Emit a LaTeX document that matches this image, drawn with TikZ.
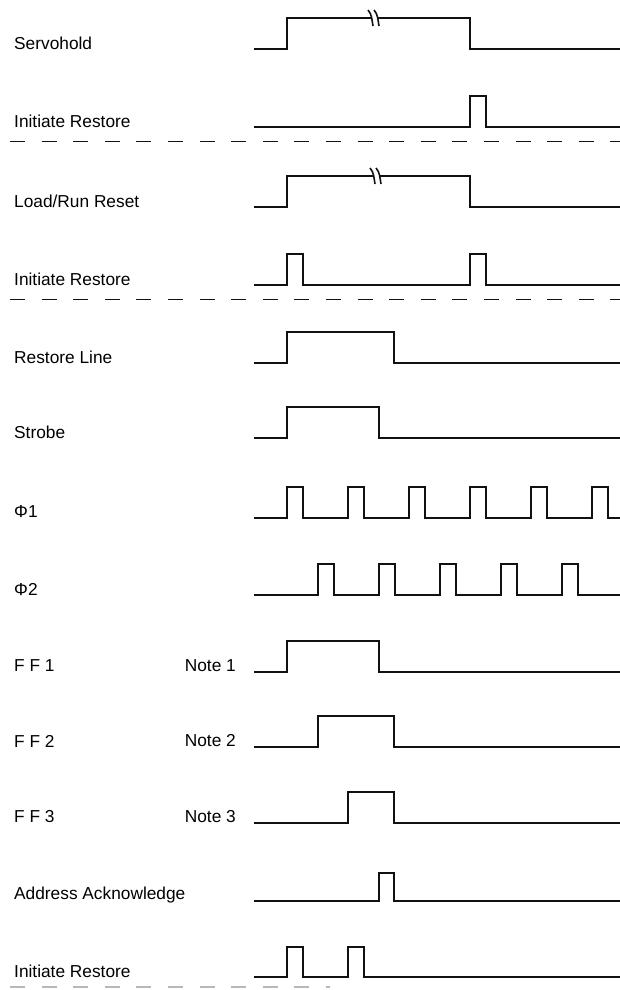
\documentclass[tikz,border=0pt]{standalone}
\usepackage{fontspec}
\setmainfont{Liberation Sans}
\usetikzlibrary{calc}
\definecolor{Ink}{HTML}{111111}
\definecolor{Faint}{HTML}{B8B8B8}
\tikzset{
  wave/.style={Ink,line width=2.8pt,line join=miter},
  cut/.style={Ink,line width=1.4pt,dash pattern=on 15pt off 16.6pt},
  brk/.style={Ink,line width=1.6pt},
  lbl/.style={anchor=west,inner sep=0pt,font=\fontsize{17.3}{20}\selectfont},
  note/.style={anchor=east,inner sep=0pt,font=\fontsize{17.3}{20}\selectfont}
}

\begin{document}
\begin{tikzpicture}[x=1pt,y=-1pt]
  \useasboundingbox (0,0) rectangle (620,990);
  \foreach \y/\t/\n in {49/Servohold/sh,127/Initiate Restore/irA,207/{Load/Run Reset}/lrr,285/Initiate Restore/irB,
      363/Restore Line/rl,438/Strobe/stb,518/Φ1/phA,595/Φ2/phB,672/F F 1/ffA,747/F F 2/ffB,823/F F 3/ffC,
      901/Address Acknowledge/aak,977/Initiate Restore/irC}
    \node[lbl] (\n) at (14,\y-6) {\t};
  \foreach \y/\k in {672/1,747/2,823/3}
    \node[note] (note\k) at (236,\y-6) {Note \k};
  \draw[cut] (10,141.7) -- (620,141.7);
  \draw[cut] (10,299.3) -- (620,299.3);
  \draw[cut,Faint] (10,987) -- (330,987);
  % servohold and load/run reset, with break marks
  \draw[wave] (254,49) -| (287,18) -- (371,18);
  \draw[wave] (377,18) -| (470,49) -- (620,49);
  \draw[wave] (254,207) -| (287,176) -- (373,176);
  \draw[wave] (379,176) -| (470,207) -- (620,207);
  \foreach \x/\y in {371/18,377/18,373/176,379/176}
    \draw[brk] (\x-3,\y-8) .. controls (\x+1,\y-4) and (\x+1,\y+3) .. (\x+2,\y+8);
  \draw[wave] (254,127) -| (470,96) -| (486,127) -- (620,127);
  \draw[wave] (254,285) -| (287,254) -| (303,285) -| (470,254) -| (486,285) -- (620,285);
  \draw[wave] (254,363) -| (287,332) -| (394,363) -- (620,363);
  \draw[wave] (254,438) -| (287,407) -| (379,438) -- (620,438);
  % clock phases
  \draw[wave] (254,518) \foreach \x in {287,348,409,470,531,592} { -| (\x,487) -| (\x+16,518) } -- (620,518);
  \draw[wave] (254,595) \foreach \x in {318,379,440,501,562} { -| (\x,564) -| (\x+16,595) } -- (620,595);
  \draw[wave] (254,672) -| (287,641) -| (379,672) -- (620,672);
  \draw[wave] (254,747) -| (318,716) -| (394,747) -- (620,747);
  \draw[wave] (254,823) -| (348,792) -| (394,823) -- (620,823);
  \draw[wave] (254,901) -| (379,873) -| (394,901) -- (620,901);
  \draw[wave] (254,977) -| (287,947) -| (303,977) -| (348,947) -| (364,977) -- (620,977);
\end{tikzpicture}
\end{document}
